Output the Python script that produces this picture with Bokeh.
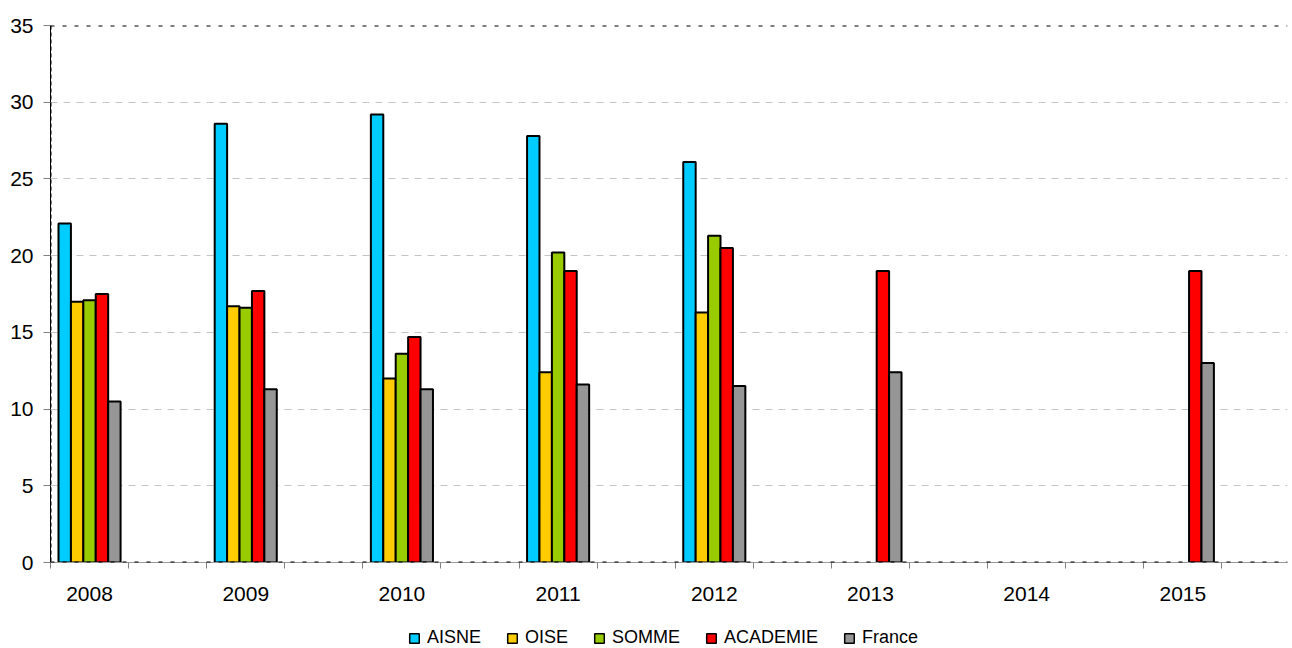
import numpy as np
from bokeh.plotting import figure
from bokeh.layouts import column
from bokeh.models import ColumnDataSource, FixedTicker, Legend, LegendItem, Span, Range1d
from bokeh.transform import dodge
from bokeh.embed import file_html
from bokeh.resources import INLINE

years = [2008, 2009, 2010, 2011, 2012, 2013, 2014, 2015]
nan = float("nan")
aisne = [22.1, 28.6, 29.2, 27.8, 26.1, nan, nan, nan]
oise = [17.0, 16.7, 12.0, 12.4, 16.3, nan, nan, nan]
somme = [17.1, 16.6, 13.6, 20.2, 21.3, nan, nan, nan]
academie = [17.5, 17.7, 14.7, 19.0, 20.5, 19.0, nan, 19.0]
france = [10.5, 11.3, 11.3, 11.6, 11.5, 12.4, nan, 13.0]
series_names = ["AISNE", "OISE", "SOMME", "ACADEMIE", "France"]
series_values = [aisne, oise, somme, academie, france]
colors = ["#00CCFF", "#FFCC00", "#99CC00", "#FF0000", "#969696"]
y_ticks = [0, 5, 10, 15, 20, 25, 30, 35]

FONT = "Liberation Sans"

# each year occupies a slot followed by an empty slot
slot_center = [2 * (y - years[0]) + 0.5 for y in years]
boundaries = list(range(0, 2 * len(years)))

p = figure(width=1292, height=610, output_backend="svg", toolbar_location=None,
           x_range=Range1d(0, 15.84), y_range=Range1d(0, 35),
           min_border_left=50, min_border_top=25, min_border_right=5,
           min_border_bottom=48)
p.outline_line_color = None
p.background_fill_color = "white"

# legend strip below the chart: placeholder renderers (no bars drawn) give the swatches
lg = figure(width=1292, height=38, output_backend="svg", toolbar_location=None,
            x_range=Range1d(0, 15.84), y_range=Range1d(0, 1),
            min_border_left=0, min_border_right=0, min_border_top=0, min_border_bottom=0)
lg.axis.visible = False
lg.grid.visible = False
lg.outline_line_color = None
empty_tops = [nan] * len(years)

bw = 0.159
items = []
for i, (name, vals, col) in enumerate(zip(series_names, series_values, colors)):
    src = ColumnDataSource(dict(x=slot_center, top=vals))
    p.vbar(x=dodge("x", (i - 2) * bw, range=p.x_range), top="top", bottom=0,
           width=bw, source=src, fill_color=col, line_color="black", line_width=2)
    r = lg.vbar(x=slot_center, top=empty_tops, bottom=0, width=bw,
                fill_color=col, line_color="black", line_width=1.5)
    items.append(LegendItem(label=name, renderers=[r]))

# axes
p.xgrid.visible = False
p.ygrid.ticker = FixedTicker(ticks=y_ticks)
p.ygrid.grid_line_color = "#c4c4c4"
p.ygrid.grid_line_dash = "7 6"
p.ygrid.grid_line_width = 1

p.yaxis.ticker = FixedTicker(ticks=y_ticks)
p.yaxis.major_tick_out = 7
p.yaxis.major_tick_in = 0
p.yaxis.minor_tick_line_color = None
p.yaxis.major_tick_line_color = "#808080"
p.yaxis.axis_line_color = "black"
p.yaxis.axis_line_width = 1
p.yaxis.major_label_standoff = 10
p.yaxis.major_label_text_font = FONT
p.yaxis.major_label_text_font_size = "21px"
p.yaxis.major_label_text_color = "black"

p.xaxis.ticker = FixedTicker(ticks=slot_center, minor_ticks=boundaries)
p.xaxis.major_label_overrides = {c: str(y) for c, y in zip(slot_center, years)}
p.xaxis.major_tick_out = 0
p.xaxis.major_tick_in = 0
p.xaxis.major_tick_line_color = None
p.xaxis.minor_tick_out = 6
p.xaxis.minor_tick_in = 0
p.xaxis.minor_tick_line_color = "#808080"
p.xaxis.axis_line_color = "#999999"
p.xaxis.axis_line_width = 1
p.xaxis.major_label_standoff = 18
p.xaxis.major_label_text_font = FONT
p.xaxis.major_label_text_font_size = "21px"
p.xaxis.major_label_text_color = "black"

# dashed black plot-area border (left, top, bottom)
p.add_layout(Span(location=0, dimension="width", line_color="black", line_width=2, line_dash="4 8"))
p.add_layout(Span(location=35, dimension="width", line_color="black", line_width=2, line_dash="4 8"))
p.add_layout(Span(location=0, dimension="height", line_color="black", line_width=2, line_dash="4 3"))

legend = Legend(items=items, orientation="horizontal", location=(358, 0),
                glyph_width=12, glyph_height=12, label_standoff=7, spacing=25,
                padding=0, margin=0, border_line_alpha=0, background_fill_alpha=0,
                label_text_font=FONT, label_text_font_size="18px", label_height=20,
                label_text_color="black")
lg.add_layout(legend)

layout = column(p, lg, spacing=0)
open("out.html", "w").write(file_html(layout, INLINE))
